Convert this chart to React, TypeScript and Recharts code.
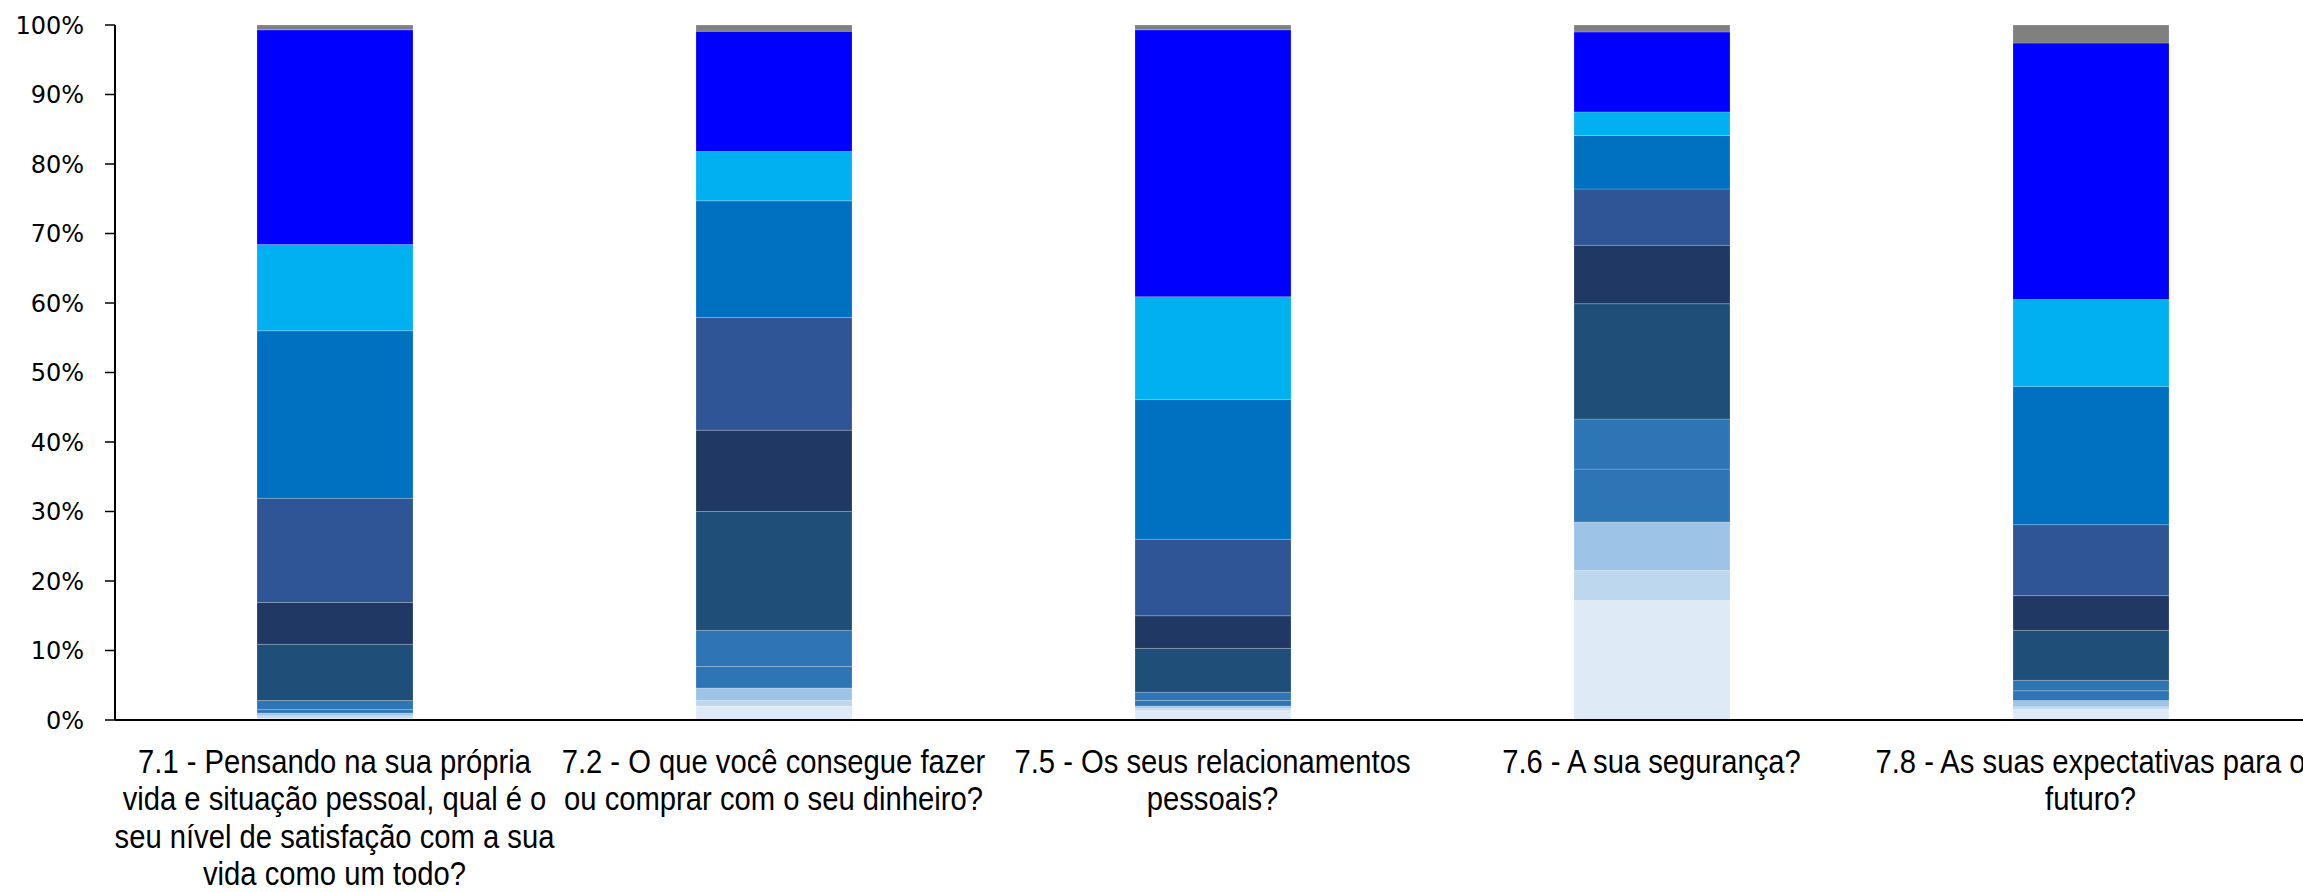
import React from "react";
import { BarChart, Bar, XAxis, YAxis } from "recharts";

const categories = ["7.1", "7.2", "7.5", "7.6", "7.8"];
const categoryLabelLines: string[][] = [
  ["7.1 - Pensando na sua própria", "vida e situação pessoal, qual é o", "seu nível de satisfação com a sua", "vida como um todo?"],
  ["7.2 - O que você consegue fazer", "ou comprar com o seu dinheiro?"],
  ["7.5 - Os seus relacionamentos", "pessoais?"],
  ["7.6 - A sua segurança?"],
  ["7.8 - As suas expectativas para o", "futuro?"],
];

const s0 = [0.3, 2.0, 1.4, 17.2, 1.6];
const s1 = [0.3, 0.8, 0.3, 4.3, 0.3];
const s2 = [0.4, 1.8, 0.3, 7.0, 0.9];
const s3 = [0.5, 3.1, 0.8, 7.6, 1.4];
const s4 = [1.3, 5.2, 1.2, 7.2, 1.5];
const s5 = [8.1, 17.1, 6.3, 16.6, 7.2];
const s6 = [6.0, 11.7, 4.7, 8.4, 5.0];
const s7 = [15.0, 16.2, 11.0, 8.1, 10.2];
const s8 = [24.1, 16.8, 20.1, 7.7, 19.9];
const s9 = [12.4, 7.1, 14.8, 3.4, 12.5];
const s10 = [30.9, 17.3, 38.4, 11.5, 36.9];
const nsnr = [0.7, 0.9, 0.7, 1.0, 2.6];

const seriesKeys = ["0", "1", "2", "3", "4", "5", "6", "7", "8", "9", "10", "NS/NR"];
const seriesValues = [s0, s1, s2, s3, s4, s5, s6, s7, s8, s9, s10, nsnr];
const seriesColors = [
  "#DEEBF7", "#BDD7EE", "#9DC3E6", "#2E75B6", "#2E75B6", "#1F4E79",
  "#203864", "#2F5597", "#0070C0", "#00B0F0", "#0000FF", "#808080",
];
const yTicks = [0, 10, 20, 30, 40, 50, 60, 70, 80, 90, 100];

const data = categories.map((c, i) => {
  const row: Record<string, number | string> = { name: c, idx: i };
  seriesKeys.forEach((k, j) => {
    row[k] = seriesValues[j][i];
  });
  return row;
});

const CategoryTick = (props: any) => {
  const { x, y, payload } = props;
  const lines = categoryLabelLines[payload.index] || [];
  return (
    <g transform={`translate(${x},${y}) scale(0.885,1)`}>
      <text
        x={0}
        y={0}
        textAnchor="middle"
        fontFamily="'Liberation Sans', Arial, sans-serif"
        fontSize={33}
        fill="#000"
      >
        {lines.map((l, i) => (
          <tspan key={i} x={0} dy={i === 0 ? 45 : 37.5}>
            {l}
          </tspan>
        ))}
      </text>
    </g>
  );
};

export default function App() {
  return (
    <div style={{ position: "absolute", left: 0, top: 0, width: 2303, height: 892, overflow: "hidden", background: "#fff" }}>
      <BarChart
        width={2310}
        height={892}
        data={data}
        margin={{ top: 25, right: 0, left: 0, bottom: 0 }}
        barSize={156}
      >
        <XAxis
          dataKey="name"
          axisLine={{ stroke: "#000", strokeWidth: 2 }}
          tickLine={false}
          height={172}
          interval={0}
          tick={<CategoryTick />}
        />
        <YAxis
          type="number"
          domain={[0, 100]}
          ticks={yTicks}
          width={115}
          axisLine={{ stroke: "#000", strokeWidth: 2 }}
          tickLine={{ stroke: "#000", strokeWidth: 1.5 }}
          tickSize={10}
          tickMargin={21}
          tickFormatter={(v: number) => `${v}%`}
          tick={{ fill: "#000", fontSize: 24, fontFamily: "'DejaVu Sans', sans-serif" }}
          allowDataOverflow
        />
        {seriesKeys.map((k, j) => (
          <Bar
            key={k}
            dataKey={k}
            stackId="a"
            fill={seriesColors[j]}
            stroke="rgba(255,255,255,0.25)"
            strokeWidth={0.75}
            isAnimationActive={false}
          />
        ))}
      </BarChart>
    </div>
  );
}
